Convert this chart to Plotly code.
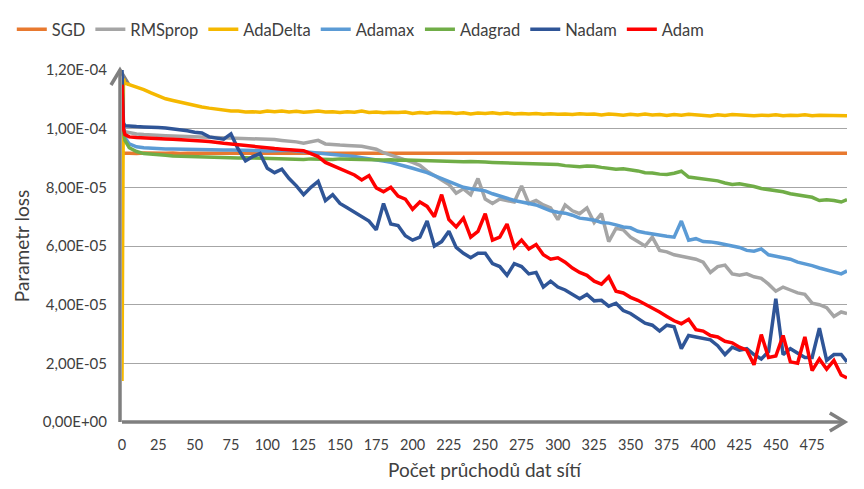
import plotly.graph_objects as go

# ---------------- data (loss values in units of 1E-05) ----------------
epochs = [0, 1, 2] + list(range(5, 500, 5)) + [499]

series_names = ["SGD", "RMSprop", "AdaDelta", "Adamax", "Adagrad", "Nadam", "Adam"]

sgd = [9.20, 9.17, 9.16,
       9.16, 9.15, 9.17, 9.16, 9.15, 9.16, 9.17, 9.15, 9.16, 9.16,
       9.15, 9.17, 9.16, 9.15, 9.16, 9.17, 9.16, 9.15, 9.16, 9.16,
       9.17, 9.15, 9.16, 9.16, 9.15, 9.17, 9.16, 9.15, 9.16, 9.17,
       9.16, 9.15, 9.16, 9.16, 9.17, 9.15, 9.16, 9.15, 9.16, 9.17,
       9.16, 9.15, 9.16, 9.17, 9.15, 9.16, 9.16, 9.15, 9.17, 9.16,
       9.15, 9.16, 9.17, 9.15, 9.16, 9.16, 9.15, 9.17, 9.16, 9.15,
       9.16, 9.17, 9.16, 9.15, 9.16, 9.16, 9.17, 9.15, 9.16, 9.15,
       9.16, 9.17, 9.16, 9.15, 9.16, 9.16, 9.15, 9.17, 9.16, 9.15,
       9.16, 9.17, 9.16, 9.15, 9.16, 9.16, 9.17, 9.15, 9.16, 9.15,
       9.16, 9.17, 9.16, 9.15, 9.16, 9.16, 9.15, 9.17, 9.16, 9.16]

rmsprop = [10.3, 10.0, 9.9,
           9.86, 9.82, 9.80, 9.78, 9.77, 9.76, 9.75, 9.74, 9.73, 9.72,
           9.72, 9.71, 9.70, 9.69, 9.68, 9.68, 9.67, 9.66, 9.65, 9.65,
           9.63, 9.60, 9.58, 9.55, 9.50, 9.55, 9.60, 9.48, 9.45, 9.44,
           9.43, 9.42, 9.40, 9.35, 9.30, 9.18, 9.10, 9.02, 8.95, 8.85,
           8.75, 8.55, 8.40, 8.25, 8.10, 7.80, 7.95, 7.75, 8.30, 7.60,
           7.45, 7.60, 7.55, 7.50, 8.05, 7.45, 7.55, 7.40, 7.30, 6.90,
           7.40, 7.20, 7.10, 7.30, 6.80, 7.10, 6.15, 6.60, 6.55, 6.30,
           6.15, 6.00, 6.30, 5.85, 5.80, 5.70, 5.65, 5.60, 5.55, 5.45,
           5.10, 5.30, 5.35, 5.05, 5.00, 5.05, 4.95, 4.90, 4.70, 4.46,
           4.60, 4.50, 4.40, 4.35, 4.05, 4.00, 3.90, 3.60, 3.75, 3.70]

adadelta = [1.4, 11.7, 11.55,
            11.50, 11.42, 11.33, 11.22, 11.12, 11.02, 10.96, 10.90, 10.84, 10.79,
            10.74, 10.70, 10.66, 10.63, 10.60, 10.60, 10.57, 10.58, 10.56, 10.60,
            10.58, 10.60, 10.57, 10.59, 10.56, 10.58, 10.60, 10.57, 10.58, 10.55,
            10.58, 10.56, 10.60, 10.55, 10.57, 10.54, 10.56, 10.55, 10.57, 10.52,
            10.55, 10.53, 10.56, 10.54, 10.55, 10.52, 10.54, 10.50, 10.53, 10.52,
            10.54, 10.51, 10.53, 10.50, 10.52, 10.50, 10.52, 10.49, 10.51, 10.49,
            10.50, 10.48, 10.51, 10.49, 10.50, 10.47, 10.50, 10.48, 10.46, 10.49,
            10.47, 10.50, 10.47, 10.48, 10.45, 10.48, 10.46, 10.49, 10.47, 10.45,
            10.43, 10.47, 10.45, 10.48, 10.46, 10.47, 10.44, 10.46, 10.45, 10.47,
            10.44, 10.46, 10.45, 10.47, 10.44, 10.46, 10.45, 10.46, 10.43, 10.44]

adamax = [10.6, 10.0, 9.7,
          9.48, 9.38, 9.35, 9.33, 9.32, 9.31, 9.31, 9.30, 9.30, 9.29,
          9.29, 9.28, 9.28, 9.27, 9.27, 9.27, 9.26, 9.26, 9.25, 9.24,
          9.25, 9.26, 9.26, 9.24, 9.22, 9.20, 9.18, 9.16, 9.13, 9.10,
          9.07, 9.05, 9.01, 8.98, 8.94, 8.90, 8.85, 8.80, 8.72, 8.65,
          8.58, 8.50, 8.40, 8.30, 8.20, 8.10, 8.00, 7.95, 7.92, 7.88,
          7.78, 7.70, 7.62, 7.55, 7.50, 7.45, 7.40, 7.30, 7.20, 7.15,
          7.12, 7.05, 6.95, 6.92, 6.88, 6.80, 6.78, 6.72, 6.65, 6.62,
          6.50, 6.45, 6.40, 6.35, 6.33, 6.30, 6.85, 6.20, 6.25, 6.15,
          6.14, 6.10, 6.05, 6.00, 5.95, 5.85, 5.82, 5.90, 5.70, 5.65,
          5.60, 5.55, 5.45, 5.40, 5.33, 5.25, 5.18, 5.12, 5.05, 5.15]

adagrad = [10.2, 9.9, 9.6,
           9.35, 9.22, 9.15, 9.12, 9.10, 9.09, 9.07, 9.06, 9.06, 9.05,
           9.04, 9.03, 9.03, 9.01, 9.02, 9.00, 9.01, 9.00, 8.99, 9.00,
           8.98, 8.99, 8.97, 8.96, 8.95, 8.97, 8.96, 8.97, 8.95, 8.97,
           8.96, 8.95, 8.94, 8.95, 8.94, 8.93, 8.94, 8.92, 8.93, 8.92,
           8.91, 8.90, 8.90, 8.89, 8.89, 8.88, 8.87, 8.88, 8.86, 8.86,
           8.85, 8.84, 8.85, 8.83, 8.83, 8.82, 8.80, 8.80, 8.78, 8.78,
           8.74, 8.72, 8.70, 8.73, 8.72, 8.68, 8.66, 8.62, 8.63, 8.60,
           8.56, 8.50, 8.49, 8.45, 8.44, 8.48, 8.55, 8.35, 8.32, 8.29,
           8.25, 8.22, 8.15, 8.10, 8.12, 8.08, 8.03, 7.96, 7.93, 7.87,
           7.85, 7.78, 7.75, 7.70, 7.66, 7.55, 7.58, 7.55, 7.50, 7.58]

nadam = [12.0, 10.2, 10.1,
         10.08, 10.07, 10.06, 10.06, 10.04, 10.02, 10.00, 9.97, 9.93, 9.88,
         9.85, 9.72, 9.68, 9.64, 9.82, 9.30, 8.90, 9.05, 9.15, 8.65,
         8.50, 8.62, 8.30, 8.05, 7.75, 8.00, 8.20, 7.55, 7.75, 7.45,
         7.30, 7.15, 7.00, 6.85, 6.55, 7.45, 6.75, 6.70, 6.35, 6.20,
         6.30, 6.85, 6.00, 6.15, 6.50, 5.95, 5.75, 5.60, 5.75, 5.75,
         5.40, 5.30, 5.00, 5.40, 5.30, 5.05, 5.10, 4.60, 4.80, 4.60,
         4.50, 4.35, 4.20, 4.35, 4.13, 4.15, 3.95, 4.05, 3.80, 3.70,
         3.55, 3.37, 3.30, 3.10, 3.30, 3.25, 2.50, 2.95, 2.90, 2.85,
         2.80, 2.60, 2.30, 2.55, 2.45, 2.50, 2.30, 2.15, 2.40, 4.20,
         2.30, 2.50, 2.35, 2.20, 2.20, 3.20, 2.10, 2.30, 2.30, 2.05]

adam = [11.5, 10.0, 9.8,
        9.72, 9.70, 9.68, 9.66, 9.65, 9.65, 9.64, 9.63, 9.62, 9.60,
        9.58, 9.56, 9.52, 9.50, 9.48, 9.45, 9.43, 9.40, 9.38, 9.34,
        9.32, 9.30, 9.28, 9.27, 9.25, 9.15, 9.05, 8.85, 8.75, 8.62,
        8.55, 8.42, 8.25, 8.40, 7.98, 7.85, 8.00, 7.70, 7.60, 7.25,
        7.50, 7.35, 7.00, 7.75, 6.90, 6.65, 6.95, 6.30, 6.50, 7.10,
        6.20, 6.30, 6.75, 5.95, 6.20, 5.90, 6.05, 5.70, 5.55, 5.60,
        5.45, 5.25, 5.10, 5.00, 4.80, 4.70, 4.95, 4.46, 4.40, 4.25,
        4.15, 4.02, 3.90, 3.75, 3.60, 3.45, 3.35, 3.50, 3.15, 3.10,
        2.95, 2.90, 2.75, 2.70, 2.55, 2.45, 1.95, 2.98, 2.20, 2.25,
        2.95, 2.05, 2.00, 2.90, 1.75, 2.15, 1.80, 2.10, 1.60, 1.50]

LOSS_UNIT = 1e-5

y_tick_values = [0, 2e-5, 4e-5, 6e-5, 8e-5, 1e-4, 1.2e-4]
y_tick_labels = ["0,00E+00", "2,00E-05", "4,00E-05", "6,00E-05",
                 "8,00E-05", "1,00E-04", "1,20E-04"]
x_tick_values = list(range(0, 500, 25))
x_tick_labels = [str(v) for v in x_tick_values]

# ---------------- styling ----------------
colors = {"SGD": "#E8792F", "RMSprop": "#A5A5A5", "AdaDelta": "#F5B800",
          "Adamax": "#5B9BD5", "Adagrad": "#70AD47", "Nadam": "#2F5597",
          "Adam": "#FF0000"}
values = {"SGD": sgd, "RMSprop": rmsprop, "AdaDelta": adadelta,
          "Adamax": adamax, "Adagrad": adagrad, "Nadam": nadam, "Adam": adam}

FONT = "Lato"
TXT = "#404040"
AXIS_COL = "#7F7F7F"

fig = go.Figure()
for name in series_names:
    fig.add_trace(go.Scatter(
        x=epochs, y=[v * LOSS_UNIT for v in values[name]],
        mode="lines", name=name,
        line=dict(color=colors[name], width=3.5),
    ))

fig.update_layout(
    width=864, height=489,
    margin=dict(l=115, r=17, t=56, b=67),
    paper_bgcolor="white", plot_bgcolor="white",
    font=dict(family=FONT, color=TXT),
    showlegend=True,
    legend=dict(orientation="h", x=-0.152, xanchor="left", y=1.115, yanchor="middle",
                font=dict(family=FONT, size=16.5, color=TXT), itemwidth=30,
                bgcolor="rgba(0,0,0,0)"),
)

fig.update_xaxes(
    range=[0, 499], tickmode="array", tickvals=x_tick_values, ticktext=x_tick_labels,
    showgrid=False, zeroline=False, showline=False, ticks="",
    tickfont=dict(family=FONT, size=14.5, color=TXT), ticklabelstandoff=12,
    title=dict(text="Počet průchodů dat sítí", font=dict(family=FONT, size=19, color=TXT),
               standoff=12),
)
fig.update_yaxes(
    range=[0, 1.2e-4], tickmode="array", tickvals=y_tick_values, ticktext=y_tick_labels,
    showgrid=True, gridcolor="#A6A6A6", gridwidth=1, zeroline=False, showline=False,
    ticks="", tickfont=dict(family=FONT, size=15, color=TXT), ticklabelstandoff=14,
    title=dict(text="Parametr loss", font=dict(family=FONT, size=19, color=TXT),
               standoff=8),
)

# axis lines with open arrow heads (Excel style)
axis_line = dict(color=AXIS_COL, width=3.5)
fig.add_shape(type="line", xref="x domain", yref="y domain", x0=0, x1=0.997, y0=0, y1=0,
              line=axis_line, layer="above")
fig.add_shape(type="path", xref="x domain", yref="y domain", xsizemode="pixel",
              ysizemode="pixel", xanchor=0.997, yanchor=0,
              path="M -15,9 L 0,0 L -15,-9", line=axis_line, layer="above")
fig.add_shape(type="line", xref="x domain", yref="y domain", xsizemode="pixel",
              xanchor=0, x0=-2, x1=-2, y0=0, y1=1, line=axis_line, layer="below")
fig.add_shape(type="path", xref="x domain", yref="y domain", xsizemode="pixel",
              ysizemode="pixel", xanchor=0, yanchor=1,
              path="M -11,-15 L -2,0 L 7,-15", line=axis_line, layer="below")

fig.write_html("out.html", config={"displayModeBar": False},
               post_script="document.body.style.margin='0';")
